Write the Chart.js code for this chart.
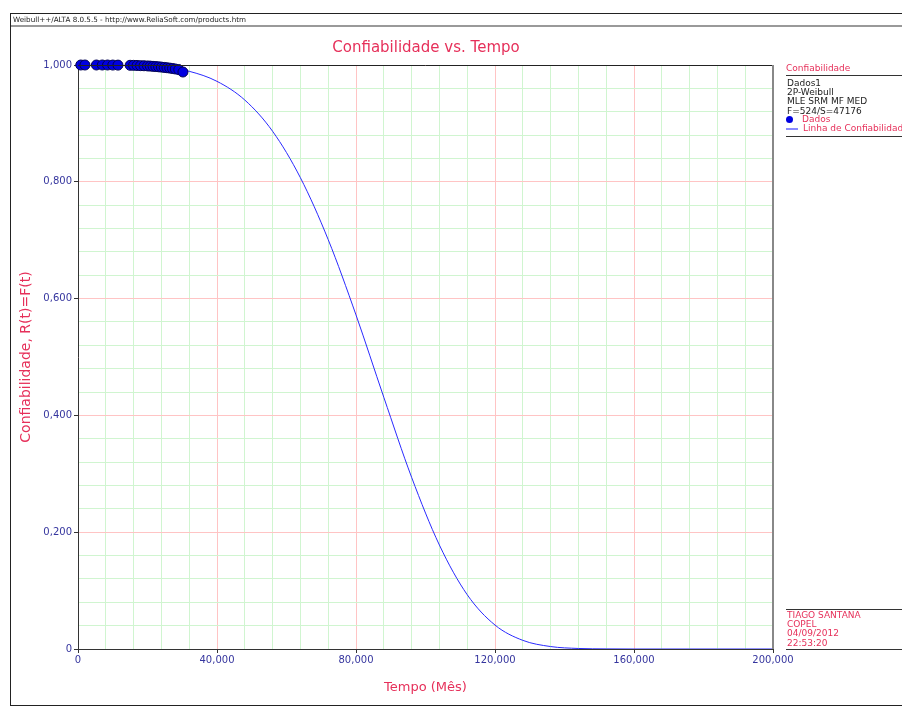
<!DOCTYPE html>
<html>
<head>
<meta charset="utf-8">
<script src="https://cdn.jsdelivr.net/npm/chart.js@4.4.1/dist/chart.umd.min.js"></script>
<style>
  body { margin: 0; background: #fff; font-family: "DejaVu Sans", sans-serif; }
  #wrap { position: relative; width: 902px; height: 708px; overflow: hidden; }
  #chart { position: absolute; left: 0; top: 0; }
  .abs { position: absolute; white-space: nowrap; pointer-events: none; }
  .red { color: #e6305a; }
  .hline { position: absolute; height: 0; border-top: 1px solid #333; }
  .panel { font-size: 9px; line-height: 9.2px; }
</style>
</head>
<body>
<div id="wrap">
  <canvas id="chart" width="902" height="708"></canvas>

  <!-- moldura e cabeçalho -->
  <div class="abs" style="left:10px; top:13px; width:900px; height:691px; border:1px solid #222;"></div>
  <div class="abs" style="left:13px; top:15px; font-size:7.2px; color:#222;">Weibull++/ALTA 8.0.5.5 - http://www.ReliaSoft.com/products.htm</div>
  <div class="abs" style="left:11px; top:25px; width:891px; border-top:2px solid #999;"></div>

  <!-- título -->
  <div class="abs red" style="left:0; width:852px; top:38px; text-align:center; font-size:15px;">Confiabilidade vs. Tempo</div>

  <!-- painel da legenda -->
  <div class="abs red panel" style="left:786px; top:64px;">Confiabilidade</div>
  <div class="hline" style="left:786px; top:75px; width:116px;"></div>
  <div class="abs panel" style="left:787px; top:79px; color:#222;">Dados1<br>2P-Weibull<br>MLE SRM MF MED<br>F=524/S=47176</div>
  <div class="abs" style="left:786px; top:116px; width:7px; height:7px; border-radius:50%; background:#0000e0;"></div>
  <div class="abs red panel" style="left:802px; top:115px;">Dados</div>
  <div class="abs" style="left:786px; top:128px; width:12px; border-top:2px solid #8a8aff;"></div>
  <div class="abs red panel" style="left:803px; top:124px;">Linha de Confiabilidade</div>
  <div class="hline" style="left:786px; top:136px; width:116px;"></div>

  <div class="hline" style="left:786px; top:609px; width:116px;"></div>
  <div class="abs red panel" style="left:787px; top:611px;">TIAGO SANTANA<br>COPEL<br>04/09/2012<br>22:53:20</div>
  <div class="hline" style="left:786px; top:649px; width:116px;"></div>
</div>

<script>
// Linha de confiabilidade
const curveTime = [0, 8000, 16000, 24000, 32000, 40000, 48000, 56000, 64000, 72000,
  80000, 88000, 96000, 104000, 112000, 120000, 128000, 136000, 144000, 152000,
  160000, 168000, 176000, 184000, 192000, 200000];
const curveReliab = [1.000, 1.000, 0.9994, 0.9969, 0.9892, 0.972, 0.940, 0.8865, 0.807, 0.701,
  0.572, 0.431, 0.294, 0.178, 0.093, 0.041, 0.0148, 0.0042, 0.0009, 0.0002,
  0, 0, 0, 0, 0, 0];

// Dados (pontos azuis)
const dataTime = [800, 2000, 5300, 7000, 8500, 10000, 11500, 15000, 16000, 17000, 18000,
  19000, 20000, 20800, 21600, 22400, 23200, 24000, 24800, 25600, 26400, 27200, 28000, 29000, 30200];
const dataReliab = [1.000, 1.000, 1.000, 1.000, 1.000, 0.9999, 0.9998, 0.9995, 0.9994, 0.9992, 0.9989,
  0.9987, 0.9984, 0.9981, 0.9977, 0.9973, 0.9969, 0.9964, 0.9959, 0.9953, 0.9947, 0.9940, 0.9932, 0.9921, 0.9880];

const xMajor = 40000, xStep = 8000;
const yTicksLabel = 0.2, yStep = 0.04;

const RED = '#e6305a';
const TICK = '#35359e';
const GRID_MAJOR = '#ffc4c4';
const GRID_MINOR = '#d0f5d0';

const toXY = (xs, ys) => xs.map((x, i) => ({ x: x, y: ys[i] }));

// borda superior e direita da área do gráfico
const frameBorder = {
  id: 'frameBorder',
  afterDatasetsDraw(chart) {
    const { ctx, chartArea: a } = chart;
    ctx.save();
    ctx.strokeStyle = '#222';
    ctx.lineWidth = 1;
    ctx.beginPath();
    ctx.moveTo(a.left, a.top + 0.5);
    ctx.lineTo(a.right, a.top + 0.5);
    ctx.stroke();
    ctx.strokeStyle = '#888';
    ctx.lineWidth = 2;
    ctx.beginPath();
    ctx.moveTo(a.right, a.top);
    ctx.lineTo(a.right, a.bottom);
    ctx.stroke();
    ctx.restore();
  }
};

const isMajorX = v => Math.round(v) % xMajor === 0;
const isMajorY = v => Math.round(v * 100) % Math.round(yTicksLabel * 100) === 0;

new Chart(document.getElementById('chart'), {
  type: 'scatter',
  data: {
    datasets: [{
      label: 'Dados',
      data: toXY(dataTime, dataReliab),
      backgroundColor: '#0000e0',
      borderColor: '#000050',
      borderWidth: 1,
      pointRadius: 5,
      clip: false,
      order: 0
    }, {
      label: 'Linha de Confiabilidade',
      data: toXY(curveTime, curveReliab),
      showLine: true,
      borderColor: '#2a2aff',
      borderWidth: 1,
      pointRadius: 0,
      cubicInterpolationMode: 'monotone',
      order: 1
    }]
  },
  options: {
    responsive: false,
    animation: false,
    layout: { padding: { left: 10, right: 129, top: 65, bottom: 0 } },
    plugins: {
      legend: { display: false },
      tooltip: { enabled: false }
    },
    scales: {
      x: {
        type: 'linear',
        min: 0,
        max: 200000,
        afterFit: s => { s.height = 708 - 649; },
        ticks: {
          stepSize: xStep,
          autoSkip: false,
          maxRotation: 0,
          color: TICK,
          padding: 1,
          font: { family: 'DejaVu Sans', size: 10 },
          callback: v => isMajorX(v) ? (v === 0 ? '0' : v.toLocaleString('en-US')) : ''
        },
        grid: {
          color: c => isMajorX(c.tick.value) ? GRID_MAJOR : GRID_MINOR,
          tickColor: c => isMajorX(c.tick.value) ? '#333' : 'rgba(0,0,0,0)',
          tickLength: 4
        },
        border: { color: '#333', width: 1 },
        title: {
          display: true,
          text: 'Tempo (Mês)',
          color: RED,
          font: { family: 'DejaVu Sans', size: 13 },
          padding: { top: 0, bottom: 13 }
        }
      },
      y: {
        min: 0,
        max: 1,
        afterFit: s => { s.width = 78 - 10; },
        ticks: {
          stepSize: yStep,
          autoSkip: false,
          color: TICK,
          padding: 2,
          font: { family: 'DejaVu Sans', size: 10 },
          callback: v => isMajorY(v) ? (v === 0 ? '0' : v.toFixed(3).replace('.', ',')) : ''
        },
        grid: {
          color: c => isMajorY(c.tick.value) ? GRID_MAJOR : GRID_MINOR,
          tickColor: c => isMajorY(c.tick.value) ? '#333' : 'rgba(0,0,0,0)',
          tickLength: 4
        },
        border: { color: '#333', width: 1 },
        title: {
          display: true,
          text: 'Confiabilidade, R(t)=F(t)',
          color: RED,
          font: { family: 'DejaVu Sans', size: 14 },
          padding: { top: 8, bottom: 0 }
        }
      }
    }
  },
  plugins: [frameBorder]
});
</script>
</body>
</html>
